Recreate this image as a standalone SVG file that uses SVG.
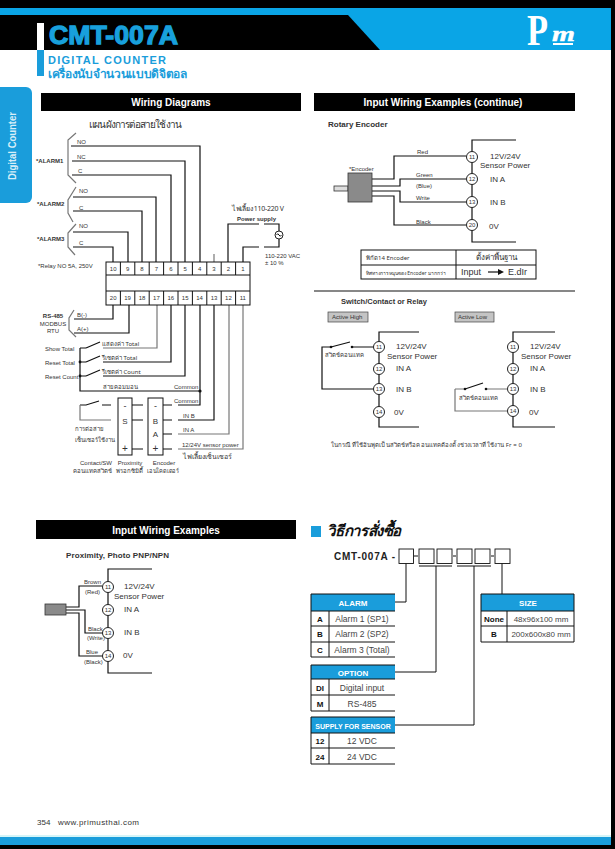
<svg xmlns="http://www.w3.org/2000/svg" width="615" height="849" viewBox="0 0 615 849">
<style>
text{font-family:"Liberation Sans","Noto Sans",sans-serif;fill:#333}
.t{font-family:"Noto Sans","DejaVu Sans","Liberation Sans",sans-serif}
.b{font-weight:bold}
.s6{font-size:6px}.s7{font-size:7px}.s8{font-size:8px}.s9{font-size:9px}
.m{text-anchor:middle}
.bar{fill:#000}
.bt{fill:#fff;font-weight:bold;font-size:10px;text-anchor:middle}
.w{fill:none;stroke:#111;stroke-width:1.2}
.g{fill:none;stroke:#777;stroke-width:1.2}
.cell{fill:#fff;stroke:#111;stroke-width:1}
.c{fill:#fff;stroke:#222;stroke-width:1}
.hd{fill:#1a9ddb}
.ht{fill:#fff;font-weight:bold;font-size:8px;text-anchor:middle}
.ln{stroke:#111;stroke-width:1;fill:none}
.k{fill:#111;font-weight:bold;font-size:8px;text-anchor:middle}
.v{fill:#444;font-size:8.5px;text-anchor:middle}
.d{fill:#111}
</style>
<rect width="615" height="849" fill="#fff"/>
<g id="header">
<rect width="615" height="8" fill="#000"/>
<rect y="8" width="611" height="42" fill="#0aa5e6"/>
<polygon points="0,15 348,15 380,50 0,50" fill="#000"/>
<rect x="37" y="23" width="7" height="27" fill="#fff"/>
<rect x="37" y="50" width="7" height="26" fill="#1a9ddb"/>
<text x="49" y="44" font-size="26" font-weight="bold" style="fill:#18a0dc;stroke:#18a0dc;stroke-width:1.3" textLength="129" lengthAdjust="spacingAndGlyphs">CMT-007A</text>
<text x="48" y="64" font-size="11" font-weight="bold" style="fill:#1a9ddb" textLength="118">DIGITAL COUNTER</text>
<text class="t" x="48" y="78" font-size="12" font-weight="bold" style="fill:#1a9ddb" textLength="139">เครื่องนับจำนวนแบบดิจิตอล</text>
<text x="527" y="45" font-size="44" font-weight="bold" style="font-family:'Liberation Serif',serif;fill:#fff" textLength="21" lengthAdjust="spacingAndGlyphs">P</text>
<text x="552" y="41" font-size="20" font-weight="bold" font-style="italic" style="font-family:'Liberation Serif',serif;fill:#fff;stroke:#fff;stroke-width:.4" textLength="23" lengthAdjust="spacingAndGlyphs">m</text>
<rect x="553" y="43" width="20" height="2" fill="#fff"/>
</g>
<g id="side-tab">
<path d="M0,87H26a6,6 0 0 1 6,6V197a6,6 0 0 1-6,6H0Z" fill="#1a9ddb"/>
<text transform="translate(16,180) rotate(-90)" font-size="10" font-weight="bold" style="fill:#d8eef8" textLength="68" lengthAdjust="spacingAndGlyphs">Digital Counter</text>
</g>
<g id="frame">
<rect x="611" y="0" width="4" height="849" fill="#000"/>
<rect y="835" width="611" height="2" fill="#d5f5f8"/>
<rect y="837" width="611" height="8" fill="#1a9ddb"/>
<rect y="845" width="615" height="4" fill="#000"/>
<text x="37" y="825" font-size="8">354</text>
<text x="58" y="825" font-size="8" textLength="81">www.primusthai.com</text>
</g>
<g id="bar-wiring"><rect class="bar" x="41" y="93" width="260" height="18"/><text class="bt" x="171" y="106">Wiring Diagrams</text></g>
<g id="bar-continue"><rect class="bar" x="314" y="93" width="261" height="18"/><text class="bt" x="443" y="106">Input Wiring Examples (continue)</text></g>
<g id="bar-examples"><rect class="bar" x="36" y="520" width="260" height="19"/><text class="bt" x="166" y="534">Input Wiring Examples</text></g>

<g id="connectors">
<path class="w" d="M71,146H200V262M72,161H185V262M72,175H171V262M73,197H156V262M73,211H142V262M73,232H128V262M73,247H113V262"/>
<path class="g" d="M76,133L68,140V175L76,183M76,187L68,200V213L73,222M76,224L68,233V247L75,255"/>
<path class="g" d="M214,254V262"/>
<path class="w" d="M228,262V224H259M243,262V247H259"/>
<path class="w" d="M264,224H279V231M279,239V247H264"/>
<path class="w" d="M113,305V319H74M129,305V333H74"/>
<path class="g" d="M74,310L69,318V330L76,337"/>
<path class="g" d="M157,305V348H103"/>
<path class="w" d="M171,305V362H103M185,305V376H103M200,305V405H178M214,305V420H178"/>
<path class="g" d="M229,305V434H178M243,305V449H178"/>
<path class="w" d="M80,348V391H200M80,348H86M80,362H86M80,376H86"/>
<path class="w" d="M86,348L100,342M86,362L100,356M86,376L100,370"/>
<path class="w" d="M162,405H172M163,420H172M163,434H172M163,449H172M132,405H143M132,420H143M132,449H143"/>
<path class="w" d="M80,405H86L99,401M102,405H111"/>
<path class="g" d="M80,405V420H111"/>
<circle class="d" cx="200" cy="391" r="1.6"/>
<circle class="d" cx="80" cy="362" r="1.4"/>
<circle class="d" cx="80" cy="376" r="1.4"/>

<path class="w" d="M516,140H472V242H516"/>
<path class="w" d="M372,179H394V156H466M372,186H400V179H466M372,191H400V202H466M372,196H394V225H466"/>
<path class="w" d="M314,291H575" />
<path class="w" d="M419,332H379V427H419"/>
<path class="w" d="M555,332H513V427H555"/>
<path class="w" d="M374,347H352M331,347H322V389H374M331,347L350,342"/>
<path class="g" d="M455,389V411H507"/>
<path class="g" d="M465,389H455M486,389H507"/>
<path class="w" d="M465,389L483,383"/>
<circle class="d" cx="352" cy="347" r="1.3"/><circle class="d" cx="331" cy="347" r="1.3"/>
<circle class="d" cx="465" cy="389" r="1.3"/><circle class="d" cx="486" cy="389" r="1.3"/>

<path class="w" d="M152,569H108V673H152"/>
<path class="w" d="M66,607H79V586H102M66,610H85V633H103M66,613H79V656H103"/>

<path class="ln" d="M406,563V602H395M436,566V672H395M474,566V725H395M502,563V594"/>
<path class="ln" d="M419,566H452M457,566H491"/>
</g>

<g id="alarm-labels">
<text class="t s9" x="89" y="128" style="font-size:10px" textLength="93">แผนผังการต่อสายใช้งาน</text>
<text class="s6" x="77" y="144">NO</text><text class="s6" x="77" y="159">NC</text><text class="s6" x="78" y="173">C</text>
<text class="s6" x="79" y="193">NO</text><text class="s6" x="79" y="210">C</text>
<text class="s6" x="79" y="228">NO</text><text class="s6" x="79" y="245">C</text>
<text class="s6 b" x="36" y="163">*ALARM1</text><text class="s6 b" x="37" y="206">*ALARM2</text><text class="s6 b" x="37" y="241">*ALARM3</text>
<text class="s6" x="38" y="268">*Relay NO 5A, 250V</text>
</g>
<g id="power-supply">
<text class="t s7" x="232" y="211" textLength="52">ไฟเลี้ยง 110-220 V</text>
<text class="s6 b" x="237" y="221">Power supply</text>
<circle class="c" cx="279" cy="235" r="4"/>
<path class="ln" d="M276.5,235q1.2,-2.5 2.5,0t2.5,0"/>
<text class="s6" x="265" y="258">110-220 VAC</text><text class="s6" x="265" y="265">± 10 %</text>
</g>
<g id="terminal-block">
<rect class="cell" x="106" y="262" width="144" height="43"/>
<path class="ln" d="M106,275H250M106,291H250M120.4,262V275M134.8,262V275M149.2,262V275M163.6,262V275M178,262V275M192.4,262V275M206.8,262V275M221.2,262V275M235.6,262V275M120.4,291V305M134.8,291V305M149.2,291V305M163.6,291V305M178,291V305M192.4,291V305M206.8,291V305M221.2,291V305M235.6,291V305"/>
<g class="s6 m">
<text x="113.2" y="271">10</text><text x="127.6" y="271">9</text><text x="142" y="271">8</text><text x="156.4" y="271">7</text><text x="170.8" y="271">6</text><text x="185.2" y="271">5</text><text x="199.6" y="271">4</text><text x="214" y="271">3</text><text x="228.4" y="271">2</text><text x="242.8" y="271">1</text>
<text x="113.2" y="300">20</text><text x="127.6" y="300">19</text><text x="142" y="300">18</text><text x="156.4" y="300">17</text><text x="170.8" y="300">16</text><text x="185.2" y="300">15</text><text x="199.6" y="300">14</text><text x="214" y="300">13</text><text x="228.4" y="300">12</text><text x="242.8" y="300">11</text>
</g>
</g>
<g id="rs485">
<text class="s6 b m" x="53" y="318">RS-485</text><text class="s6 m" x="53" y="326">MODBUS</text><text class="s6 m" x="53" y="333">RTU</text>
<text class="s6" x="77" y="317">B(-)</text><text class="s6" x="77" y="331">A(+)</text>
</g>
<g id="inputs">
<text class="s6" x="45" y="351">Show Total</text><text class="s6" x="45" y="365">Reset Total</text><text class="s6" x="45" y="379">Reset Count</text>
<text class="t s6" x="102" y="346">แสดงค่า Total</text><text class="t s6" x="102" y="360">รีเซตค่า Total</text><text class="t s6" x="102" y="374">รีเซตค่า Count</text>
<text class="t s6" x="103" y="389">สายคอมมอน</text>
<text class="s6" x="174" y="389">Common</text><text class="s6" x="174" y="403">Common</text>
<text class="s6" x="183" y="418">IN B</text><text class="s6" x="183" y="432">IN A</text>
<text class="s6" x="182" y="447">12/24V sensor power</text>
<text class="t s7" x="183" y="459">ไฟเลี้ยงเซ็นเซอร์</text>
<text class="t s6" x="75" y="431">การต่อสาย</text><text class="t s6" x="75" y="442">เซ็นเซอร์ใช้งาน</text>
<text class="s6 m" x="96" y="465">Contact/SW</text><text class="t s6" x="73" y="473" textLength="39" lengthAdjust="spacingAndGlyphs">คอนแทคสวิตช์</text>
<text class="s6 m" x="130" y="465">Proximity</text><text class="t s6" x="116" y="473" textLength="27" lengthAdjust="spacingAndGlyphs">พรอกซิมิตี้</text>
<text class="s6 m" x="164" y="465">Encoder</text><text class="t s6" x="147" y="473" textLength="32" lengthAdjust="spacingAndGlyphs">เอนโคดเดอร์</text>
</g>
<g id="proximity-box">
<rect class="cell" x="118" y="398" width="14" height="57"/>
<text class="m" x="125" y="409" font-size="9">-</text><text class="m" x="125" y="424" font-size="8">S</text><text class="m" x="125" y="452" font-size="10">+</text>
</g>
<g id="encoder-box">
<rect class="cell" x="148" y="398" width="15" height="57"/>
<text class="m" x="155.5" y="409" font-size="9">-</text><text class="m" x="155.5" y="424" font-size="8">B</text><text class="m" x="155.5" y="437" font-size="8">A</text><text class="m" x="155.5" y="452" font-size="10">+</text>
</g>

<g id="rotary-encoder">
<text class="s8 b" x="328" y="127">Rotary Encoder</text>
<rect x="334" y="186" width="14" height="5" fill="#ddd" stroke="#333" stroke-width=".8"/>
<rect x="348" y="173" width="24" height="29" fill="#8a8a8a" stroke="#333" stroke-width=".8"/>
<text class="s6" x="349" y="171">*Encoder</text>
<text class="s6" x="417" y="154">Red</text><text class="s6" x="416" y="177">Green</text><text class="s6" x="416" y="188">(Blue)</text><text class="s6" x="416" y="200">Write</text><text class="s6" x="416" y="224">Black</text>
<circle class="c" cx="472" cy="157" r="5.5"/><circle class="c" cx="472" cy="179" r="5.5"/><circle class="c" cx="472" cy="202" r="5.5"/><circle class="c" cx="472" cy="225" r="5.5"/>
<g class="s6 m"><text x="472" y="159">11</text><text x="472" y="181">12</text><text x="472" y="204">13</text><text x="472" y="227">20</text></g>
<g class="s8"><text x="490" y="159">12V/24V</text><text x="480" y="168">Sensor Power</text><text x="490" y="182">IN A</text><text x="490" y="205">IN B</text><text x="489" y="229">0V</text></g>
</g>
<g id="encoder-table">
<rect class="cell" x="361" y="250" width="175" height="29"/>
<path class="ln" d="M361,265H536M456,250V279"/>
<text class="t s6" x="366" y="260">พิกัด14 Encoder</text>
<text class="t s6" x="366" y="275" style="font-size:5px">ทิศทางการหมุนของ Encoder มากกว่า</text>
<text class="t s8 m" x="496" y="260">ตั้งค่าพื้นฐาน</text>
<text class="s9" x="461" y="275">Input</text>
<path d="M488,272H500" stroke="#111" stroke-width="1.2"/><path d="M498,269L504,272L498,275Z" fill="#111"/>
<text class="s9" x="508" y="275">E.dIr</text>
</g>
<g id="switch-active-high">
<text class="b" font-size="7.5" x="341" y="304">Switch/Contact or Relay</text>
<rect x="328" y="312" width="40" height="10" fill="#c4c4c4" stroke="#444" stroke-width=".7"/>
<text class="s6" x="332" y="319">Active High</text>
<text class="t s6" x="325" y="357">สวิตช์คอนแทค</text>
<circle class="c" cx="379" cy="347" r="5.5"/><circle class="c" cx="379" cy="369" r="5.5"/><circle class="c" cx="379" cy="389" r="5.5"/><circle class="c" cx="379" cy="412" r="5.5"/>
<g class="s6 m"><text x="379" y="349">11</text><text x="379" y="371">12</text><text x="379" y="391">13</text><text x="379" y="414">14</text></g>
<g class="s8"><text x="396" y="349">12V/24V</text><text x="387" y="359">Sensor Power</text><text x="396" y="371">IN A</text><text x="396" y="392">IN B</text><text x="394" y="415">0V</text></g>
</g>
<g id="switch-active-low">
<rect x="455" y="312" width="39" height="10" fill="#c4c4c4" stroke="#444" stroke-width=".7"/>
<text class="s6" x="458" y="319">Active Low</text>
<text class="t s6" x="459" y="400">สวิตช์คอนแทค</text>
<circle class="c" cx="513" cy="347" r="5.5"/><circle class="c" cx="513" cy="369" r="5.5"/><circle class="c" cx="513" cy="389" r="5.5"/><circle class="c" cx="513" cy="411" r="5.5"/>
<g class="s6 m"><text x="513" y="349">11</text><text x="513" y="371">12</text><text x="513" y="391">13</text><text x="513" y="413">14</text></g>
<g class="s8"><text x="530" y="349">12V/24V</text><text x="521" y="359">Sensor Power</text><text x="530" y="371">IN A</text><text x="530" y="392">IN B</text><text x="529" y="415">0V</text></g>
</g>
<text id="switch-note" class="t s6" x="331" y="447" textLength="191">ในกรณีที่ใช้อินพุตเป็นสวิตช์หรือคอนแทคต้องตั้งช่วงเวลาที่ใช้งาน Fr = 0</text>

<g id="proximity">
<text class="s8 b" x="66" y="558" textLength="103">Proximity, Photo PNP/NPN</text>
<rect x="45" y="604" width="21" height="11" fill="#8a8a8a" stroke="#333" stroke-width=".8"/>
<circle class="c" cx="108" cy="587" r="5.5"/><circle class="c" cx="108" cy="610" r="5.5"/><circle class="c" cx="108" cy="633" r="5.5"/><circle class="c" cx="108" cy="656" r="5.5"/>
<g class="s6 m"><text x="108" y="589">11</text><text x="108" y="612">12</text><text x="108" y="635">13</text><text x="108" y="658">14</text></g>
<text class="s6" x="84" y="584">Brown</text><text class="s6" x="85" y="594">(Red)</text><text class="s6" x="88" y="631">Black</text><text class="s6" x="87" y="640">(Write)</text><text class="s6" x="86" y="654">Blue</text><text class="s6" x="84" y="664">(Black)</text>
<g class="s8"><text x="124" y="589">12V/24V</text><text x="114" y="599">Sensor Power</text><text x="124" y="612">IN A</text><text x="124" y="635">IN B</text><text x="123" y="658">0V</text></g>
</g>

<g id="order-title">
<rect x="311" y="526" width="10" height="11" fill="#1a9ddb"/>
<text class="t" x="327" y="536" font-size="15" font-weight="bold" font-style="italic" style="fill:#111" textLength="74">วิธีการสั่งซื้อ</text>
<text x="334" y="560" font-size="10" font-weight="bold" style="fill:#222" textLength="61">CMT-007A -</text>
<g fill="#fff" stroke="#111" stroke-width=".9">
<rect x="399" y="549" width="14.5" height="14.5"/><rect x="419" y="549" width="15" height="14.5"/><rect x="437" y="549" width="15" height="14.5"/><rect x="457" y="549" width="15" height="14.5"/><rect x="475" y="549" width="15" height="14.5"/><rect x="495" y="549" width="15" height="14.5"/>
</g>
<path class="ln" d="M414,556H418M453,556H456M491,556H494"/>
</g>
<g id="alarm-table">
<rect class="hd" x="311" y="594" width="84" height="17"/>
<path class="ln" d="M311,594H395M311,611H395M311,626H395M311,642H395M311,657H395M311,594V657M329,611V657"/>
<text class="ht" x="353" y="606">ALARM</text>
<text class="k" x="320" y="622">A</text><text class="k" x="320" y="637">B</text><text class="k" x="320" y="653">C</text>
<text class="v" x="362" y="622">Alarm 1 (SP1)</text><text class="v" x="362" y="637">Alarm 2 (SP2)</text><text class="v" x="362" y="653">Alarm 3 (Total)</text>
</g>
<g id="option-table">
<rect class="hd" x="311" y="665" width="84" height="14"/>
<path class="ln" d="M311,665H395M311,679H395M311,695H395M311,711H395M311,665V711M329,679V711"/>
<text class="ht" x="353" y="676">OPTION</text>
<text class="k" x="320" y="691">DI</text><text class="k" x="320" y="707">M</text>
<text class="v" x="362" y="691">Digital input</text><text class="v" x="362" y="707">RS-485</text>
</g>
<g id="supply-table">
<rect class="hd" x="311" y="717" width="84" height="16"/>
<path class="ln" d="M311,717H395M311,733H395M311,748H395M311,764H395M311,717V764M329,733V764"/>
<text class="ht" x="353" y="729" style="font-size:7px">SUPPLY FOR SENSOR</text>
<text class="k" x="320" y="744">12</text><text class="k" x="320" y="760">24</text>
<text class="v" x="362" y="744">12 VDC</text><text class="v" x="362" y="760">24 VDC</text>
</g>
<g id="size-table">
<rect class="hd" x="481" y="594" width="93" height="17"/>
<path class="ln" d="M481,594H574M481,611H574M481,626H574M481,642H574M481,594V642M574,594V642M507,611V642"/>
<text class="ht" x="528" y="606">SIZE</text>
<text class="k" x="494" y="622">None</text><text class="k" x="494" y="637">B</text>
<text class="v" x="541" y="622" style="font-size:8px">48x96x100 mm</text><text class="v" x="541" y="637" style="font-size:8px">200x600x80 mm</text>
</g>
</svg>
